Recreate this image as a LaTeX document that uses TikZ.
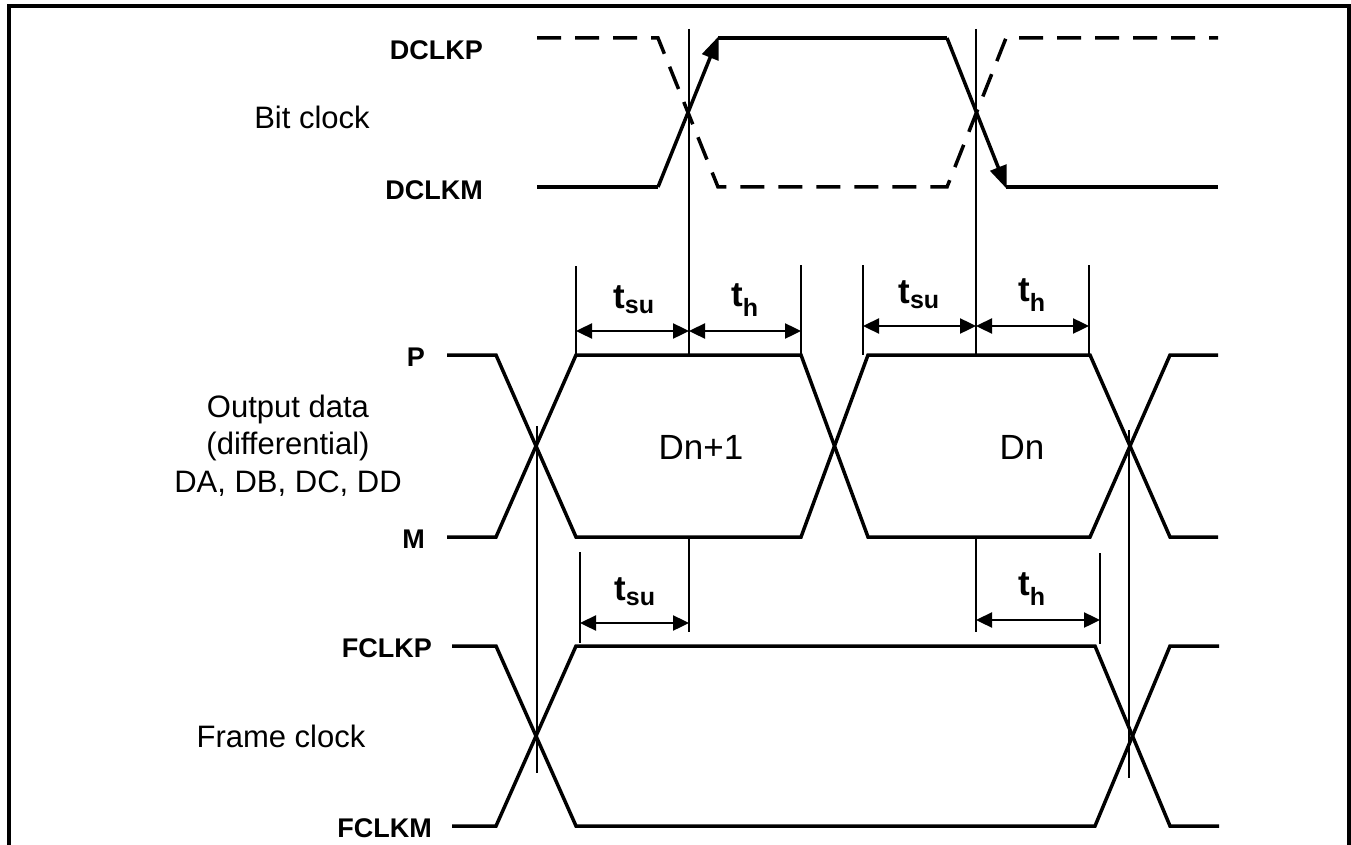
\documentclass[tikz,border=0pt]{standalone}
\usepackage{fontspec}
\setmainfont{Liberation Sans}
\usetikzlibrary{arrows.meta}
\tikzset{
  sig/.style={line width=3.5pt, line join=miter},
  dsig/.style={sig, dash pattern=on 24pt off 14pt},
  ref/.style={line width=2.4pt},
  dim/.style={line width=2.4pt, {Triangle[length=16pt,width=15pt]}-{Triangle[length=16pt,width=15pt]}},
  lbl/.style={font=\fontsize{31}{36}\selectfont, inner sep=0pt},
  dlbl/.style={font=\fontsize{35}{40}\selectfont, inner sep=0pt},
  blbl/.style={font=\fontsize{27}{30}\selectfont\bfseries, inner sep=0pt, anchor=east},
  tl/.style={font=\fontsize{35}{40}\selectfont\bfseries, inner sep=0pt},
  arr/.style={sig, -{Triangle[length=23pt,width=17pt]}, shorten >=-2pt}
}
\newcommand{\tsu}{t\textsubscript{\fontsize{25}{26}\selectfont su}}
\newcommand{\thold}{t\textsubscript{\fontsize{25}{26}\selectfont h}}
\begin{document}
\begin{tikzpicture}[x=1pt,y=-1pt]
\useasboundingbox (0,0) rectangle (1351,845);
% frame
\draw[line width=3.5pt] (9,845) -- (9,6) -- (1349,6) -- (1349,845);

% ---------- Bit clock ----------
\node[lbl] (bitclk) at (312,117) {Bit clock};
\node[blbl] (dclkp) at (483,50) {DCLKP};
\node[blbl] (dclkm) at (483,190) {DCLKM};
\coordinate (b1) at (537,187);
\coordinate (b2) at (658,187);
\coordinate (b3) at (718,38);
\coordinate (b4) at (947,38);
\coordinate (b5) at (1006,187);
\coordinate (b6) at (1218,187);
\draw[sig] (b1) -- (b2);
\draw[arr] (b2) -- (b3);
\draw[sig] (b3) -- (b4);
\draw[arr] (b4) -- (b5);
\draw[sig] (b5) -- (b6);
\draw[dsig] (537,38) -- (658,38) -- (718,187) -- (947,187) -- (1006,38) -- (1218,38);

% reference verticals (interrupted by the data eye)
\draw[ref] (689,29) -- (689,355);
\draw[ref] (689,537) -- (689,632);
\draw[ref] (976,29) -- (976,355);
\draw[ref] (976,537) -- (976,632);

% ---------- Output data ----------
\node[lbl] (od1) at (288,409) {Output data};
\node[lbl] (od2) at (288,446) {(differential)};
\node[lbl] (od3) at (288,484) {DA, DB, DC, DD};
\node[blbl] (lp) at (425,357) {P};
\node[blbl] (lm) at (425,539) {M};
\draw[sig] (447,355) -- (496,355) -- (576,537) -- (801,537) -- (868,355) -- (1090,355) -- (1170,537) -- (1218,537);
\draw[sig] (447,537) -- (496,537) -- (576,355) -- (801,355) -- (868,537) -- (1090,537) -- (1170,355) -- (1218,355);
\node[dlbl] (dn1) at (701,447) {Dn+1};
\node[dlbl] (dn) at (1022,447) {Dn};

% dims above data
\draw[ref] (576,266) -- (576,355);
\draw[ref] (801,265) -- (801,355);
\draw[dim] (576,331) -- (689,331);
\draw[dim] (689,331) -- (801,331);
\node[tl] (tsu1) at (634,300) {\tsu};
\node[tl] (th1) at (745,300) {\thold};
\draw[ref] (863,265) -- (863,355);
\draw[ref] (1089,265) -- (1089,355);
\draw[dim] (863,326) -- (976,326);
\draw[dim] (976,326) -- (1089,326);
\node[tl] (tsu2) at (919,295) {\tsu};
\node[tl] (th2) at (1032,295) {\thold};

% ---------- Frame clock ----------
\node[lbl] (frclk) at (281,736) {Frame clock};
\node[blbl] (fclkp) at (432,648) {FCLKP};
\node[blbl] (fclkm) at (432,828) {FCLKM};
\draw[sig] (452,646) -- (496,646) -- (576,826) -- (1095,826) -- (1170,646) -- (1219,646);
\draw[sig] (452,826) -- (496,826) -- (576,646) -- (1095,646) -- (1170,826) -- (1219,826);
\draw[ref] (537,426) -- (537,773);
\draw[ref] (1129,430) -- (1129,778);
\draw[ref] (580,552) -- (580,643);
\draw[dim] (580,623) -- (689,623);
\node[tl] (tsu3) at (635,592) {\tsu};
\draw[ref] (1100,553) -- (1100,644);
\draw[dim] (976,620) -- (1100,620);
\node[tl] (th3) at (1032,589) {\thold};
\end{tikzpicture}
\end{document}
